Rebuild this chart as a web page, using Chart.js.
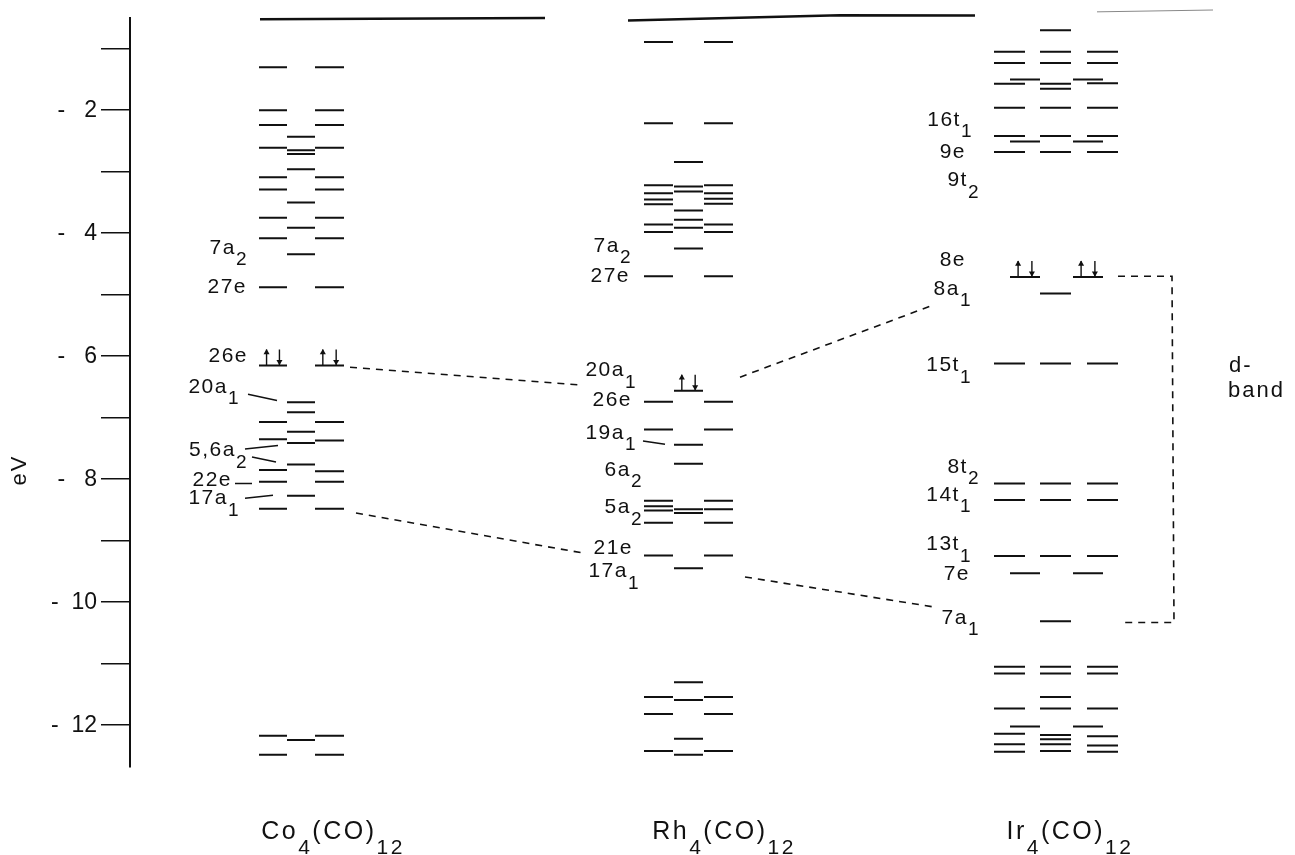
<!DOCTYPE html>
<html>
<head>
<meta charset="utf-8">
<script src="https://cdn.jsdelivr.net/npm/chart.js@4.4.1/dist/chart.umd.min.js"></script>
<style>
  html, body { margin: 0; padding: 0; background: #fff; }
  #wrap { width: 1295px; height: 855px; position: relative; }
</style>
</head>
<body>
<div id="wrap"><canvas id="mo"></canvas></div>
<script>
// orbital energies (eV), one list per drawn column slot
const coLeft   = [-1.30, -2.00, -2.24, -2.61, -3.09, -3.29, -3.75, -4.08, -4.88, -6.15, -7.07, -7.35, -7.85, -8.04, -8.48, -12.17, -12.48];
const coMid    = [-2.43, -2.65, -2.71, -2.96, -3.50, -3.91, -4.34, -6.75, -6.91, -7.23, -7.41, -7.76, -8.27, -12.24];
const coRight  = [-1.30, -2.00, -2.24, -2.61, -3.09, -3.29, -3.75, -4.08, -4.88, -6.15, -7.07, -7.37, -7.87, -8.04, -8.48, -12.17, -12.48];

const rhLeft   = [-0.89, -2.21, -3.22, -3.35, -3.45, -3.53, -3.86, -3.98, -4.70, -6.74, -7.19, -8.35, -8.44, -8.51, -8.71, -9.24, -11.54, -11.82, -12.42];
const rhMid    = [-2.84, -3.24, -3.32, -3.63, -3.78, -3.91, -4.25, -6.56, -7.44, -7.75, -8.49, -8.55, -9.45, -11.30, -11.59, -12.22, -12.48];
const rhRight  = [-0.89, -2.21, -3.22, -3.35, -3.44, -3.52, -3.86, -3.98, -4.70, -6.74, -7.19, -8.35, -8.49, -8.71, -9.24, -11.54, -11.82, -12.42];

const irLeft     = [-1.05, -1.23, -1.57, -1.96, -2.42, -2.68, -6.12, -8.07, -8.34, -9.25, -11.05, -11.16, -11.73, -12.14, -12.31, -12.43];
const irLeftMid  = [-1.50, -2.51, -4.71, -9.53, -12.02];
const irMid      = [-0.70, -1.05, -1.23, -1.57, -1.65, -1.96, -2.42, -2.68, -4.98, -6.12, -8.07, -8.34, -9.25, -10.31, -11.05, -11.16, -11.54, -11.73, -12.16, -12.23, -12.31, -12.42];
const irMidRight = [-1.50, -2.51, -4.71, -9.53, -12.02];
const irRight    = [-1.05, -1.23, -1.56, -1.96, -2.42, -2.68, -6.12, -8.07, -8.34, -9.25, -11.05, -11.16, -11.73, -12.18, -12.33, -12.43];

// occupied (HOMO) levels carrying an electron pair
const coPairs = [['coL', -6.15], ['coR', -6.15]];
const rhPairs = [['rhM', -6.56]];
const irPairs = [['irLM', -4.71], ['irMR', -4.71]];

// correlation lines [x, eV]
const corrLines = [
  [[350, -6.18], [582, -6.47]],
  [[356, -8.55], [583, -9.20]],
  [[740, -6.34], [933, -5.17]],
  [[745, -9.59], [935, -10.08]]
];
const dBand = [[1118, -4.70], [1172, -4.70], [1174, -10.33], [1123, -10.33]];

const compounds = ['Co_4(CO)_12', 'Rh_4(CO)_12', 'Ir_4(CO)_12'];
const yTicks    = [-1, -2, -3, -4, -5, -6, -7, -8, -9, -10, -11, -12];
const yTickText = ['', '-   2', '', '-   4', '', '-   6', '', '-   8', '', '-  10', '', '-  12'];

const coLabels = [['7a_2', -4.24], ['27e', -4.88], ['26e', -6.00], ['20a_1', -6.50], ['5,6a_2', -7.53], ['22e', -8.02], ['17a_1', -8.31]];
const rhLabels = [['7a_2', -4.21], ['27e', -4.70], ['20a_1', -6.23], ['26e', -6.72], ['19a_1', -7.25], ['6a_2', -7.85], ['5a_2', -8.46], ['21e', -9.12], ['17a_1', -9.50]];
const irLabels = [['16t_1', -2.16], ['9e', -2.68], ['9t_2', -3.14], ['8e', -4.44], ['8a_1', -4.91], ['15t_1', -6.15], ['8t_2', -7.80], ['14t_1', -8.26], ['13t_1', -9.06], ['7e', -9.54], ['7a_1', -10.26]];

// label leader strokes [x, eV]
const leaders = [
  [[248, -6.62], [277, -6.72]],
  [[245, -7.51], [278, -7.45]],
  [[252, -7.64], [276, -7.72]],
  [[235, -8.07], [252, -8.07]],
  [[245, -8.31], [273, -8.26]],
  [[643, -7.38], [665, -7.43]]
];

// layout: x axis units are page pixels
const slotX = {
  coL: [259, 287], coM: [287, 315], coR: [315, 344],
  rhL: [644, 673], rhM: [674, 703], rhR: [704, 733],
  irL: [994, 1025], irLM: [1010, 1040], irM: [1040, 1071], irMR: [1073, 1103], irR: [1087, 1118]
};
const labelRight = {
  co: [248, 247, 248, 240, 248, 232, 240],
  rh: [632, 630, 637, 632, 637, 643, 643, 633, 640],
  ir: [973, 966, 980, 966, 972, 972, 980, 972, 972, 970, 980]
};
const compoundX = [333, 724, 1070];
const FONT = 'Liberation Sans';
const INK = '#111';

function levelPoints(values, slot) {
  const [a, b] = slotX[slot];
  return values.flatMap(v => [{ x: a, y: v }, { x: b, y: v }, { x: b, y: null }]);
}
function polyPoints(lines) {
  return lines.flatMap(l => [...l.map(([x, y]) => ({ x, y })), { x: l[l.length - 1][0], y: null }]);
}
function lineSet(data, width, dash, color) {
  return {
    data, showLine: true, borderColor: color || INK, borderWidth: width,
    borderDash: dash || [], pointRadius: 0, spanGaps: false, clip: false, tension: 0
  };
}

const pairs = [...coPairs, ...rhPairs, ...irPairs];
const shafts = pairs.flatMap(([slot, v]) => {
  const [a, b] = slotX[slot];
  const xu = a + 0.27 * (b - a), xd = a + 0.73 * (b - a);
  return [{ x: xu, y: v }, { x: xu, y: v + 0.26 }, { x: xu, y: null },
          { x: xd, y: v + 0.26 }, { x: xd, y: v }, { x: xd, y: null }];
});
const heads = pairs.flatMap(([slot, v]) => {
  const [a, b] = slotX[slot];
  return [{ x: a + 0.27 * (b - a), y: v + 0.21, rot: 0 }, { x: a + 0.73 * (b - a), y: v + 0.06, rot: 180 }];
});

function drawText(ctx, text, px, py, align, size, subSize, drop, spacing) {
  const parts = text.split(/_(\d+)/);
  ctx.letterSpacing = spacing + 'px';
  const widths = parts.map((p, i) => {
    ctx.font = (i % 2 ? subSize : size) + 'px "' + FONT + '"';
    return ctx.measureText(p).width;
  });
  const total = widths.reduce((s, w) => s + w, 0);
  let x = align === 'right' ? px - total : align === 'center' ? px - total / 2 : px;
  parts.forEach((p, i) => {
    ctx.font = (i % 2 ? subSize : size) + 'px "' + FONT + '"';
    ctx.fillText(p, x, py + (i % 2 ? drop : 0));
    x += widths[i];
  });
}

const textPlugin = {
  id: 'moText',
  afterDraw(chart) {
    const { ctx, scales: { x, y } } = chart;
    ctx.save();
    ctx.fillStyle = INK;
    ctx.textBaseline = 'middle';
    ctx.textAlign = 'left';
    const groups = [[coLabels, labelRight.co], [rhLabels, labelRight.rh], [irLabels, labelRight.ir]];
    groups.forEach(([labels, rights]) => {
      labels.forEach(([t, v], i) => {
        drawText(ctx, t, x.getPixelForValue(rights[i]), y.getPixelForValue(v), 'right', 21, 19, 12, 1.5);
      });
    });
    compounds.forEach((t, i) => {
      drawText(ctx, t, x.getPixelForValue(compoundX[i]), y.getPixelForValue(-13.74), 'center', 25, 21, 16, 2.5);
    });
    drawText(ctx, 'd-', x.getPixelForValue(1229), y.getPixelForValue(-6.15), 'left', 22, 19, 0, 2);
    drawText(ctx, 'band', x.getPixelForValue(1228), y.getPixelForValue(-6.57), 'left', 22, 19, 0, 2);
    // axis title
    ctx.letterSpacing = '2px';
    ctx.translate(20, y.getPixelForValue(-7.85));
    ctx.rotate(-Math.PI / 2);
    ctx.textAlign = 'center';
    ctx.font = '22px "' + FONT + '"';
    ctx.fillText('eV', 0, 0);
    ctx.restore();
  }
};

new Chart(document.getElementById('mo'), {
  type: 'scatter',
  data: {
    datasets: [
      lineSet([...levelPoints(coLeft, 'coL'), ...levelPoints(coMid, 'coM'), ...levelPoints(coRight, 'coR')], 2),
      lineSet([...levelPoints(rhLeft, 'rhL'), ...levelPoints(rhMid, 'rhM'), ...levelPoints(rhRight, 'rhR')], 2),
      lineSet([...levelPoints(irLeft, 'irL'), ...levelPoints(irLeftMid, 'irLM'), ...levelPoints(irMid, 'irM'),
               ...levelPoints(irMidRight, 'irMR'), ...levelPoints(irRight, 'irR')], 2),
      lineSet(polyPoints(corrLines), 1.6, [7, 6]),
      lineSet(polyPoints([dBand]), 1.6, [7, 6]),
      lineSet(polyPoints(leaders), 1.5),
      lineSet(shafts, 1.4),
      {
        data: heads, showLine: false, pointStyle: 'triangle', pointRadius: 3.5,
        pointRotation: c => (c.raw ? c.raw.rot : 0),
        backgroundColor: INK, borderColor: INK, borderWidth: 0, clip: false
      },
      // scanned frame edge along the top
      lineSet(polyPoints([[[260, -0.52], [545, -0.50]], [[628, -0.54], [840, -0.455], [975, -0.46]]]), 2.5),
      lineSet(polyPoints([[[75, -0.455], [120, -0.455]], [[1097, -0.40], [1213, -0.37]]]), 1, [], '#888')
    ]
  },
  options: {
    responsive: true,
    maintainAspectRatio: false,
    animation: false,
    events: [],
    layout: { padding: { left: 0, top: 18, right: 15, bottom: 88 } },
    plugins: { legend: { display: false }, tooltip: { enabled: false } },
    scales: {
      x: { type: 'linear', min: 130, max: 1280, display: false },
      y: {
        type: 'linear', min: -12.68, max: -0.5,
        afterBuildTicks: s => { s.ticks = yTicks.map(v => ({ value: v })); },
        afterFit: s => { s.width = 130; s.paddingTop = 0; s.paddingBottom = 0; },
        border: { color: INK, width: 2 },
        grid: { drawOnChartArea: false, drawTicks: true, tickLength: 29, color: INK, lineWidth: 1.5 },
        ticks: {
          callback: (v, i) => yTickText[i],
          font: { family: FONT, size: 23 },
          color: INK,
          padding: 4
        }
      }
    }
  },
  plugins: [textPlugin]
});
</script>
</body>
</html>
